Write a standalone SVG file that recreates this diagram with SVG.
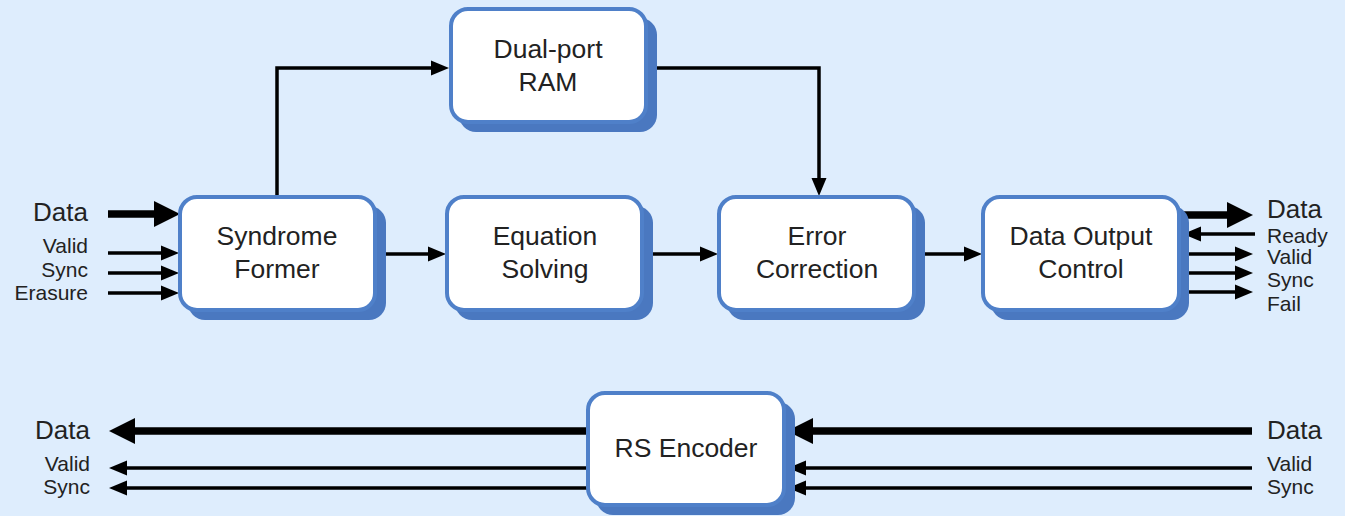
<svg xmlns="http://www.w3.org/2000/svg" width="1345" height="516" viewBox="0 0 1345 516">
<defs>
<style>
.bg{fill:#deedfd}
.sh{fill:#4a78c0}
.bx{fill:#ffffff;stroke:#4f80c9;stroke-width:4}
.nt{font-family:"Liberation Sans",Arial,sans-serif;font-size:26.5px;fill:#222;text-anchor:middle}
.lb{font-family:"Liberation Sans",Arial,sans-serif;font-size:21px;fill:#222}
.lbb{font-family:"Liberation Sans",Arial,sans-serif;font-size:26px;fill:#222}
.th{stroke:#000;stroke-width:3.5;fill:none}
.tk{stroke:#000;stroke-width:7.5;fill:none}
</style>
<marker id="ah" markerUnits="userSpaceOnUse" markerWidth="19" markerHeight="18" refX="1" refY="9" orient="auto">
<path d="M0,1.5 L18,9 L0,16.5 z" fill="#000"/>
</marker>
<marker id="ahk" markerUnits="userSpaceOnUse" markerWidth="27" markerHeight="28" refX="1" refY="14" orient="auto">
<path d="M0,1 L26,14 L0,27 z" fill="#000"/>
</marker>
</defs>
<rect class="bg" x="0" y="0" width="1345" height="516"/>

<g id="connectors">
<line class="tk" x1="108" y1="214" x2="155" y2="214" marker-end="url(#ahk)"/>
<line class="th" x1="108" y1="253" x2="162" y2="253" marker-end="url(#ah)"/>
<line class="th" x1="108" y1="273" x2="162" y2="273" marker-end="url(#ah)"/>
<line class="th" x1="108" y1="293" x2="162" y2="293" marker-end="url(#ah)"/>
<polyline class="th" points="277,197 277,68 432,68" marker-end="url(#ah)"/>
<polyline class="th" points="646,68 819,68 819,179" marker-end="url(#ah)"/>
<line class="th" x1="376" y1="254" x2="429" y2="254" marker-end="url(#ah)"/>
<line class="th" x1="643" y1="254" x2="701" y2="254" marker-end="url(#ah)"/>
<line class="th" x1="915" y1="254" x2="965" y2="254" marker-end="url(#ah)"/>
<line class="tk" x1="1182" y1="215" x2="1228" y2="215" marker-end="url(#ahk)"/>
<line class="th" x1="1255" y1="234" x2="1200" y2="234" marker-end="url(#ah)"/>
<line class="th" x1="1182" y1="254" x2="1236" y2="254" marker-end="url(#ah)"/>
<line class="th" x1="1182" y1="273" x2="1236" y2="273" marker-end="url(#ah)"/>
<line class="th" x1="1182" y1="292" x2="1236" y2="292" marker-end="url(#ah)"/>
<line class="tk" x1="1252" y1="431" x2="812" y2="431" marker-end="url(#ahk)"/>
<line class="th" x1="1252" y1="468" x2="805" y2="468" marker-end="url(#ah)"/>
<line class="th" x1="1252" y1="488" x2="805" y2="488" marker-end="url(#ah)"/>
<line class="tk" x1="588" y1="431" x2="134" y2="431" marker-end="url(#ahk)"/>
<line class="th" x1="588" y1="468" x2="126" y2="468" marker-end="url(#ah)"/>
<line class="th" x1="588" y1="488" x2="126" y2="488" marker-end="url(#ah)"/>
</g>

<g id="ram">
<rect class="sh" x="459" y="18" width="198" height="114" rx="17"/>
<rect class="bx" x="451" y="9" width="195" height="113" rx="17"/>
<text class="nt" x="548" y="58">Dual-port</text>
<text class="nt" x="548" y="91">RAM</text>
</g>

<g id="syndrome">
<rect class="sh" x="188" y="206" width="198" height="114" rx="17"/>
<rect class="bx" x="180" y="197" width="195" height="113" rx="17"/>
<text class="nt" x="277" y="245">Syndrome</text>
<text class="nt" x="277" y="278">Former</text>
</g>

<g id="equation">
<rect class="sh" x="455" y="206" width="198" height="114" rx="17"/>
<rect class="bx" x="447" y="197" width="195" height="113" rx="17"/>
<text class="nt" x="545" y="245">Equation</text>
<text class="nt" x="545" y="278">Solving</text>
</g>

<g id="error">
<rect class="sh" x="727" y="206" width="198" height="114" rx="17"/>
<rect class="bx" x="719" y="197" width="195" height="113" rx="17"/>
<text class="nt" x="817" y="245">Error</text>
<text class="nt" x="817" y="278">Correction</text>
</g>

<g id="dataout">
<rect class="sh" x="991" y="206" width="198" height="114" rx="17"/>
<rect class="bx" x="983" y="197" width="196" height="113" rx="17"/>
<text class="nt" x="1081" y="245">Data Output</text>
<text class="nt" x="1081" y="278">Control</text>
</g>

<g id="encoder">
<rect class="sh" x="596" y="402" width="199" height="113" rx="17"/>
<rect class="bx" x="588" y="393" width="196" height="112" rx="17"/>
<text class="nt" x="686" y="457">RS Encoder</text>
</g>

<g id="labels">
<text class="lbb" x="88" y="221" text-anchor="end">Data</text>
<text class="lb" x="88" y="253" text-anchor="end">Valid</text>
<text class="lb" x="88" y="277" text-anchor="end">Sync</text>
<text class="lb" x="88" y="300" text-anchor="end">Erasure</text>
<text class="lbb" x="1267" y="218" font-size="25">Data</text>
<text class="lb" x="1267" y="243">Ready</text>
<text class="lb" x="1267" y="264">Valid</text>
<text class="lb" x="1267" y="287">Sync</text>
<text class="lb" x="1267" y="311">Fail</text>
<text class="lbb" x="90" y="439" text-anchor="end">Data</text>
<text class="lb" x="90" y="471" text-anchor="end">Valid</text>
<text class="lb" x="90" y="494" text-anchor="end">Sync</text>
<text class="lbb" x="1267" y="439">Data</text>
<text class="lb" x="1267" y="471">Valid</text>
<text class="lb" x="1267" y="494">Sync</text>
</g>
</svg>
